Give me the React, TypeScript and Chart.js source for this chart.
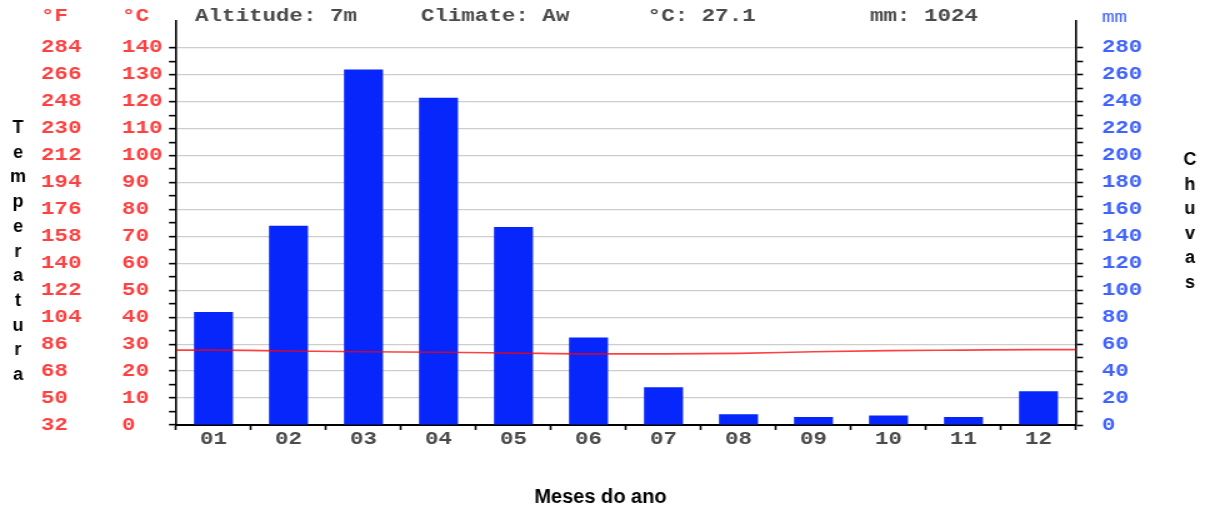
import { useEffect, useRef } from 'react';
import { Chart, registerables } from 'chart.js';

Chart.register(...registerables);

// ---- data ----
const MONTHS = ['01', '02', '03', '04', '05', '06', '07', '08', '09', '10', '11', '12'];
const RAINFALL_MM = [84, 148, 264, 243, 147, 65, 28, 8, 6, 7, 6, 25];
const TEMPERATURE_C = [27.8, 27.5, 27.2, 27.0, 26.7, 26.4, 26.4, 26.6, 27.2, 27.6, 27.8, 28.0];

const CELSIUS_TICKS = [0, 10, 20, 30, 40, 50, 60, 70, 80, 90, 100, 110, 120, 130, 140];
const FAHRENHEIT_TICKS = [32, 50, 68, 86, 104, 122, 140, 158, 176, 194, 212, 230, 248, 266, 284];
const RAIN_TICKS = [0, 20, 40, 60, 80, 100, 120, 140, 160, 180, 200, 220, 240, 260, 280];

const HEADER_ITEMS = ['Altitude: 7m', 'Climate: Aw', '°C: 27.1', 'mm: 1024'];
const LEFT_TITLE = 'Temperatura';
const RIGHT_TITLE = 'Chuvas';
const BOTTOM_TITLE = 'Meses do ano';

// ---- styling ----
// The canvas is drawn narrower and widened with CSS, which gives the wide monospace lettering.
const SX = 1.25;
const CSS_W = 1210;
const CSS_H = 509;
const CANVAS_W = CSS_W / SX;

const RED = '#ff4040';
const BLUE = '#4062ff';
const BAR_BLUE = '#0626fb';
const GREY_TEXT = '#4a4a4a';
const GRID = '#cdcdcd';
const MONO = '"Liberation Mono", "Courier New", monospace';
const SANS = '"Liberation Sans", Arial, sans-serif';

// minor tick marks halfway between labelled ticks
const withMinor = (labels: number[]) => {
  const out: number[] = [];
  labels.forEach((v, i) => {
    out.push(v);
    if (i < labels.length - 1) out.push((v + labels[i + 1]) / 2);
  });
  return out;
};

// vertical axes: fixed width, no extra room reserved above/below for labels
const fixWidth = (w: number) => (s: any) => {
  s.width = w;
  s.paddingTop = 0;
  s.paddingBottom = 0;
};

const HEADER_POS = [0.0211, 0.272, 0.524, 0.771];

const textPlugin = {
  id: 'climateText',
  afterDraw(chart: any) {
    const ctx: CanvasRenderingContext2D = chart.ctx;
    const area = chart.chartArea;
    const yF = chart.scales.yF;
    const yC = chart.scales.yC;
    const yR = chart.scales.yR;

    ctx.save();
    ctx.textBaseline = 'middle';
    ctx.textAlign = 'left';
    ctx.font = `bold 18px ${MONO}`;
    ctx.fillStyle = RED;
    ctx.fillText('°F', yF.left, 16);
    ctx.fillText('°C', yC.left, 16);
    ctx.fillStyle = BLUE;
    ctx.font = `17px ${MONO}`;
    ctx.fillText('mm', yR.left + 20.6, 17);

    ctx.font = `bold 18px ${MONO}`;
    ctx.fillStyle = GREY_TEXT;
    HEADER_ITEMS.forEach((t, i) => {
      ctx.fillText(t, area.left + HEADER_POS[i] * (area.right - area.left), 16);
    });
    ctx.restore();

    // Arial titles are drawn in unstretched page pixels
    ctx.save();
    ctx.scale(1 / SX, 1);
    ctx.fillStyle = '#000';
    ctx.textAlign = 'center';
    ctx.textBaseline = 'alphabetic';
    ctx.font = `bold 18px ${SANS}`;
    LEFT_TITLE.split('').forEach((ch, i) => {
      ctx.fillText(ch, 18, 133 + i * 24.7);
    });
    ctx.font = `bold 18px ${SANS}`;
    RIGHT_TITLE.split('').forEach((ch, i) => {
      ctx.fillText(ch, 1190, 165 + i * 24.6);
    });
    ctx.font = `bold 20px ${SANS}`;
    ctx.fillText(BOTTOM_TITLE, 600.5, 503);
    ctx.restore();
  },
};

export default function App() {
  const ref = useRef<HTMLCanvasElement>(null);

  useEffect(() => {
    const canvas = ref.current;
    if (!canvas) return;

    const celsiusMarks = withMinor(CELSIUS_TICKS);
    const rainMarks = withMinor(RAIN_TICKS);

    const lineData = [
      { x: 0, y: TEMPERATURE_C[0] },
      ...TEMPERATURE_C.map((t, i) => ({ x: i + 0.5, y: t })),
      { x: MONTHS.length, y: TEMPERATURE_C[TEMPERATURE_C.length - 1] },
    ];

    const chart = new Chart(canvas, {
      type: 'bar',
      data: {
        labels: MONTHS,
        datasets: [
          {
            type: 'line',
            label: '°C',
            data: lineData as any,
            xAxisID: 'xl',
            yAxisID: 'yC',
            borderColor: 'rgba(255,0,0,0.75)',
            borderWidth: 1.6,
            pointRadius: 0,
            tension: 0.3,
            cubicInterpolationMode: 'monotone',
            order: 0,
          } as any,
          {
            type: 'bar',
            label: 'mm',
            data: RAINFALL_MM,
            xAxisID: 'x',
            yAxisID: 'yR',
            backgroundColor: BAR_BLUE,
            borderWidth: 0,
            grouped: false,
            barPercentage: 0.52,
            categoryPercentage: 1,
            order: 1,
          },
        ],
      },
      options: {
        responsive: false,
        animation: false,
        events: [],
        layout: {
          padding: { left: 41 / SX, right: CANVAS_W - 1076 / SX - 60, top: 21, bottom: 54 },
        },
        plugins: {
          legend: { display: false },
          tooltip: { enabled: false },
        },
        scales: {
          x: {
            type: 'category',
            position: 'bottom',
            offset: true,
            afterFit: (s: any) => {
              s.height = 30;
            },
            grid: {
              offset: true,
              drawOnChartArea: false,
              drawTicks: true,
              tickLength: 5,
              tickColor: '#000',
              tickWidth: 1.6,
            },
            border: { display: true, color: '#000', width: 2 },
            ticks: {
              color: GREY_TEXT,
              font: { family: MONO, size: 18, weight: 'bold' },
              padding: -1,
              autoSkip: false,
              maxRotation: 0,
            },
          },
          xl: {
            type: 'linear',
            axis: 'x',
            display: false,
            offset: false,
            grid: { offset: false },
            min: 0,
            max: MONTHS.length,
          },
          yF: {
            type: 'linear',
            axis: 'y',
            position: 'left',
            weight: 2,
            min: 32,
            max: 302,
            bounds: 'data',
            afterBuildTicks: (s: any) => {
              s.ticks = FAHRENHEIT_TICKS.map((v) => ({ value: v }));
            },
            afterFit: fixWidth((122 - 41) / SX),
            grid: { display: false, drawTicks: false },
            border: { display: false },
            ticks: {
              color: RED,
              autoSkip: false,
              crossAlign: 'far',
              padding: 0,
              font: { family: MONO, size: 18, weight: 'bold' },
              callback: (v: any) => String(v),
            },
          },
          yC: {
            type: 'linear',
            axis: 'y',
            position: 'left',
            weight: 1,
            min: 0,
            max: 150,
            bounds: 'data',
            afterBuildTicks: (s: any) => {
              s.ticks = celsiusMarks.map((v) => ({ value: v }));
            },
            afterFit: fixWidth((176 - 122) / SX),
            grid: {
              color: (c: any) =>
                c.tick && c.tick.value > 0 && CELSIUS_TICKS.includes(c.tick.value) ? GRID : 'rgba(0,0,0,0)',
              lineWidth: 1.3,
              tickColor: '#000',
              tickLength: 7 / SX,
              tickWidth: 1.6,
            },
            border: { display: true, color: '#000', width: 2 / SX },
            ticks: {
              color: RED,
              autoSkip: false,
              crossAlign: 'far',
              padding: 0,
              font: { family: MONO, size: 18, weight: 'bold' },
              callback: (v: any) => (CELSIUS_TICKS.includes(v) ? String(v) : ''),
            },
          },
          yR: {
            type: 'linear',
            axis: 'y',
            position: 'right',
            min: 0,
            max: 300,
            bounds: 'data',
            afterBuildTicks: (s: any) => {
              s.ticks = rainMarks.map((v) => ({ value: v }));
            },
            afterFit: fixWidth(60),
            grid: {
              drawOnChartArea: false,
              tickColor: '#000',
              tickLength: 7 / SX,
              tickWidth: 1.6,
            },
            border: { display: true, color: '#000', width: 2 / SX },
            ticks: {
              color: BLUE,
              autoSkip: false,
              padding: 20.6 - 7 / SX,
              font: { family: MONO, size: 18, weight: 'bold' },
              callback: (v: any) => (RAIN_TICKS.includes(v) ? String(v) : ''),
            },
          },
        },
      } as any,
      plugins: [textPlugin],
    });

    return () => chart.destroy();
  }, []);

  return (
    <div style={{ position: 'absolute', left: 0, top: 0, width: CSS_W, height: CSS_H, background: '#fff' }}>
      <canvas
        ref={ref}
        width={CANVAS_W}
        height={CSS_H}
        style={{ width: `${CSS_W}px`, height: `${CSS_H}px`, display: 'block' }}
      />
    </div>
  );
}
